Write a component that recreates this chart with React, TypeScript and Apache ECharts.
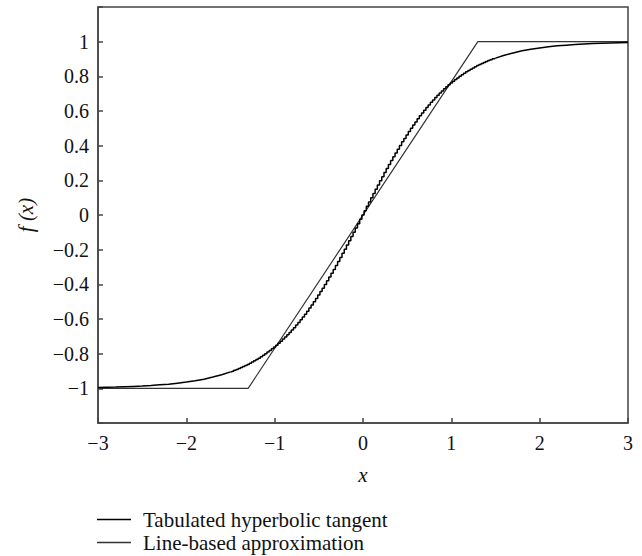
import React, { useEffect, useRef } from "react";
import * as echarts from "echarts";

// Tabulated hyperbolic tangent: left tail samples
const tailLeftX = [-3, -2.9, -2.8, -2.7, -2.6, -2.5, -2.4, -2.3, -2.2, -2.1, -2, -1.9, -1.8, -1.7, -1.6, -1.5];
const tailLeftY = [-0.995, -0.994, -0.993, -0.991, -0.989, -0.987, -0.984, -0.98, -0.976, -0.97, -0.964, -0.956, -0.947, -0.935, -0.922, -0.905];

// Tabulated hyperbolic tangent: central (visibly stepped) samples
const midX = [
  -1.5, -1.475, -1.45, -1.425, -1.4, -1.375, -1.35, -1.325, -1.3, -1.275, -1.25, -1.225, -1.2, -1.175, -1.15, -1.125,
  -1.1, -1.075, -1.05, -1.025, -1, -0.975, -0.95, -0.925, -0.9, -0.875, -0.85, -0.825, -0.8, -0.775, -0.75, -0.725,
  -0.7, -0.675, -0.65, -0.625, -0.6, -0.575, -0.55, -0.525, -0.5, -0.475, -0.45, -0.425, -0.4, -0.375, -0.35, -0.325,
  -0.3, -0.275, -0.25, -0.225, -0.2, -0.175, -0.15, -0.125, -0.1, -0.075, -0.05, -0.025,
  0,
  0.025, 0.05, 0.075, 0.1, 0.125, 0.15, 0.175, 0.2, 0.225, 0.25, 0.275, 0.3, 0.325, 0.35, 0.375, 0.4, 0.425, 0.45,
  0.475, 0.5, 0.525, 0.55, 0.575, 0.6, 0.625, 0.65, 0.675, 0.7, 0.725, 0.75, 0.775, 0.8, 0.825, 0.85, 0.875, 0.9,
  0.925, 0.95, 0.975, 1, 1.025, 1.05, 1.075, 1.1, 1.125, 1.15, 1.175, 1.2, 1.225, 1.25, 1.275, 1.3, 1.325, 1.35,
  1.375, 1.4, 1.425, 1.45, 1.475, 1.5,
];
const midY = [
  -0.905, -0.901, -0.896, -0.891, -0.885, -0.88, -0.874, -0.868, -0.862, -0.855, -0.848, -0.841, -0.834, -0.826, -0.818, -0.809,
  -0.8, -0.791, -0.782, -0.772, -0.762, -0.751, -0.74, -0.728, -0.716, -0.704, -0.691, -0.678, -0.664, -0.65, -0.635, -0.62,
  -0.604, -0.588, -0.572, -0.555, -0.537, -0.519, -0.501, -0.482, -0.462, -0.442, -0.422, -0.401, -0.38, -0.358, -0.336, -0.314,
  -0.291, -0.268, -0.245, -0.221, -0.197, -0.173, -0.149, -0.124, -0.1, -0.075, -0.05, -0.025,
  0,
  0.025, 0.05, 0.075, 0.1, 0.124, 0.149, 0.173, 0.197, 0.221, 0.245, 0.268, 0.291, 0.314, 0.336, 0.358, 0.38, 0.401, 0.422,
  0.442, 0.462, 0.482, 0.501, 0.519, 0.537, 0.555, 0.572, 0.588, 0.604, 0.62, 0.635, 0.65, 0.664, 0.678, 0.691, 0.704, 0.716,
  0.728, 0.74, 0.751, 0.762, 0.772, 0.782, 0.791, 0.8, 0.809, 0.818, 0.826, 0.834, 0.841, 0.848, 0.855, 0.862, 0.868, 0.874,
  0.88, 0.885, 0.891, 0.896, 0.901, 0.905,
];

// Tabulated hyperbolic tangent: right tail samples
const tailRightX = [1.5, 1.6, 1.7, 1.8, 1.9, 2, 2.1, 2.2, 2.3, 2.4, 2.5, 2.6, 2.7, 2.8, 2.9, 3];
const tailRightY = [0.905, 0.922, 0.935, 0.947, 0.956, 0.964, 0.97, 0.976, 0.98, 0.984, 0.987, 0.989, 0.991, 0.993, 0.994, 0.995];

// Line-based approximation breakpoints
const approxX = [-3, -1.3, 1.3, 3];
const approxY = [-1, -1, 1, 1];

const seriesNames = ["Tabulated hyperbolic tangent", "Line-based approximation"];

const FONT = "Liberation Serif";

const fmt = (v: number) => {
  if (Math.abs(v) > 1.05) return "";
  const r = Math.round(v * 10) / 10;
  return String(r).replace("-", "\u2212");
};

const pairs = (xs: number[], ys: number[]) => xs.map((x, i) => [x, ys[i]]);

export default function App() {
  const ref = useRef<HTMLDivElement>(null);
  useEffect(() => {
    if (!ref.current) return;
    const chart = echarts.init(ref.current, undefined, { renderer: "svg" });
    const axisColor = "#444";
    const tanhStyle = { color: "#000", width: 1.5 };
    chart.setOption({
      animation: false,
      backgroundColor: "#fff",
      textStyle: { fontFamily: FONT },
      grid: {
        left: 98,
        right: 14,
        top: 7,
        bottom: 133,
        show: true,
        borderColor: axisColor,
        borderWidth: 1.5,
      },
      legend: {
        left: 92,
        top: 504,
        height: 60,
        orient: "vertical",
        icon: "rect",
        itemWidth: 34,
        itemHeight: 1.5,
        itemGap: 2,
        data: seriesNames,
        textStyle: { fontFamily: FONT, fontSize: 21, color: "#111", padding: [0, 0, 0, 7] },
      },
      xAxis: {
        type: "value",
        min: -3,
        max: 3,
        interval: 1,
        name: "x",
        nameLocation: "middle",
        nameGap: 41,
        nameTextStyle: { fontFamily: FONT, fontStyle: "italic", fontSize: 21, color: "#111" },
        axisLine: { onZero: false, lineStyle: { color: axisColor, width: 1.5 } },
        axisTick: { inside: true, length: 5, lineStyle: { color: axisColor, width: 1.5 } },
        splitLine: { show: false },
        axisLabel: {
          fontFamily: FONT,
          fontSize: 20,
          color: "#111",
          margin: 10,
          formatter: (v: number) => String(v).replace("-", "\u2212"),
        },
      },
      yAxis: {
        type: "value",
        min: -1.2,
        max: 1.2,
        interval: 0.2,
        name: "f (x)",
        nameLocation: "middle",
        nameGap: 62,
        nameRotate: 90,
        nameTextStyle: { fontFamily: FONT, fontStyle: "italic", fontSize: 21, color: "#111" },
        axisLine: { onZero: false, lineStyle: { color: axisColor, width: 1.5 } },
        axisTick: { inside: true, length: 5, lineStyle: { color: axisColor, width: 1.5 } },
        splitLine: { show: false },
        axisLabel: {
          fontFamily: FONT,
          fontSize: 20,
          color: "#111",
          margin: 9,
          formatter: fmt,
        },
      },
      series: [
        {
          name: seriesNames[0],
          type: "line",
          symbol: "none",
          data: pairs(tailLeftX, tailLeftY),
          lineStyle: tanhStyle,
          itemStyle: { color: "#000" },
          z: 3,
        },
        {
          name: seriesNames[0],
          type: "line",
          step: "middle",
          symbol: "none",
          data: pairs(midX, midY),
          lineStyle: tanhStyle,
          itemStyle: { color: "#000" },
          z: 3,
        },
        {
          name: seriesNames[0],
          type: "line",
          symbol: "none",
          data: pairs(tailRightX, tailRightY),
          lineStyle: tanhStyle,
          itemStyle: { color: "#000" },
          z: 3,
        },
        {
          name: seriesNames[1],
          type: "line",
          symbol: "none",
          data: pairs(approxX, approxY),
          lineStyle: { color: "#333", width: 1.2 },
          itemStyle: { color: "#333" },
          z: 2,
        },
      ],
    });
    return () => chart.dispose();
  }, []);
  return (
    <div
      ref={ref}
      style={{ position: "fixed", left: 0, top: 0, width: 642, height: 556 }}
    />
  );
}
